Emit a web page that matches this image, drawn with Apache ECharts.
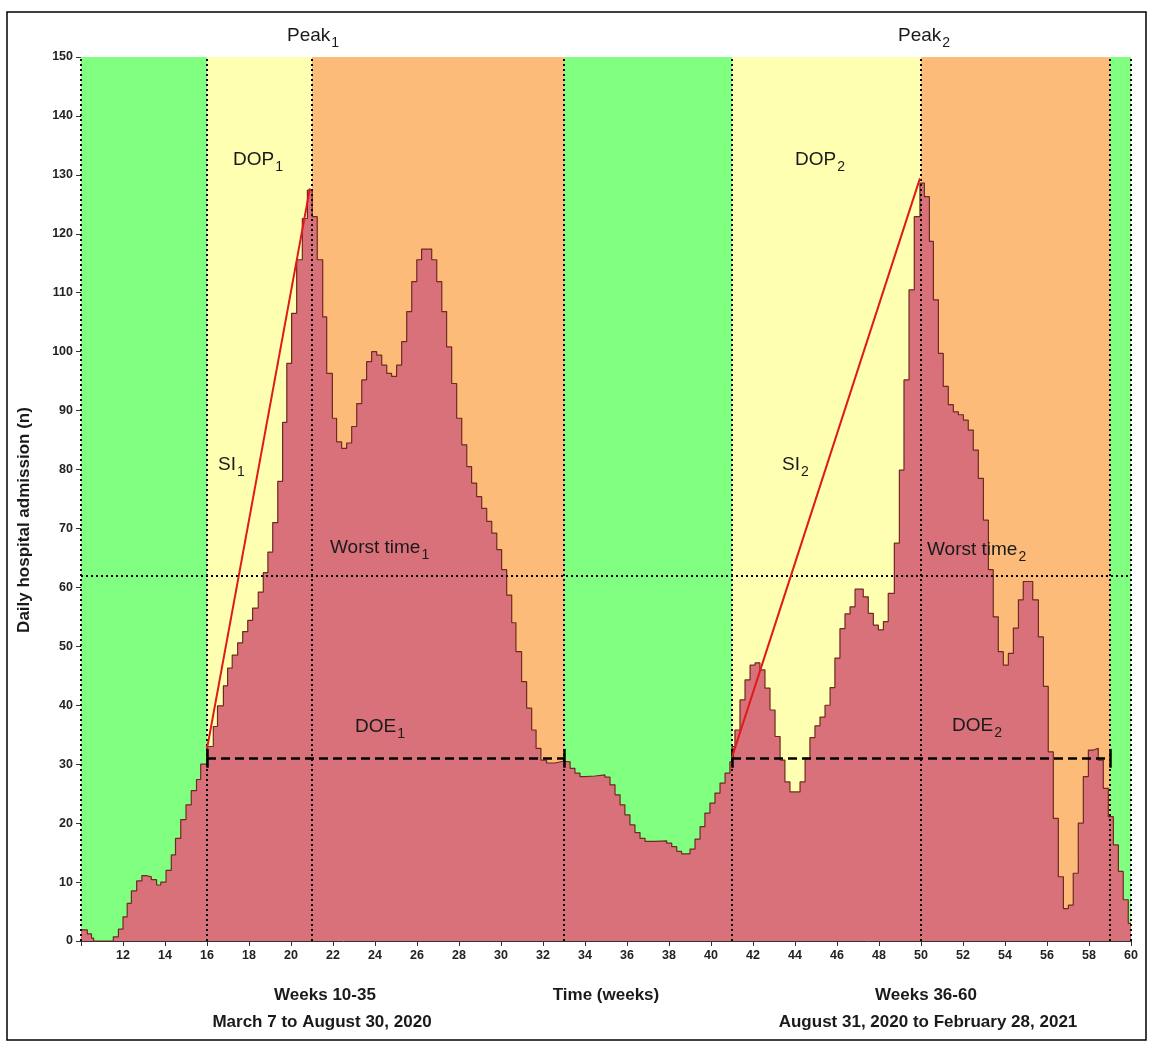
<!DOCTYPE html>
<html>
<head>
<meta charset="utf-8">
<script src="https://cdn.jsdelivr.net/npm/echarts@6/dist/echarts.min.js"></script>
<style>
  html, body { margin: 0; padding: 0; background: #fff; }
  #chart { width: 1149px; height: 1042px; }
</style>
</head>
<body>
<div id="chart"></div>
<script>
// ---- data ----
// start week of each step of the daily-admission curve
const stepWeeks = [
  10.0,10.3,10.5,10.6,11.54,11.78,12.0,12.2,12.4,12.65,
  12.9,13.1,13.35,13.6,13.8,14.05,14.3,14.5,14.75,15.0,
  15.25,15.5,15.7,16.0,16.3,16.5,16.78,16.98,17.2,17.46,
  17.7,17.94,18.17,18.44,18.68,18.9,19.13,19.37,19.6,19.8,
  20.03,20.27,20.54,20.78,21.01,21.25,21.51,21.7,21.97,22.17,
  22.41,22.65,22.89,23.13,23.37,23.6,23.84,24.08,24.32,24.56,
  24.79,25.03,25.27,25.51,25.75,25.99,26.22,26.7,26.94,27.18,
  27.41,27.65,27.89,28.13,28.37,28.6,28.84,29.08,29.32,29.56,
  29.8,30.03,30.27,30.51,30.71,30.98,31.22,31.46,31.67,31.9,
  32.17,32.57,32.97,33.29,33.52,33.76,34.0,34.48,34.95,35.19,
  35.43,35.67,35.9,36.14,36.38,36.62,36.86,37.33,37.89,38.13,
  38.37,38.6,39.0,39.24,39.48,39.71,39.95,40.19,40.43,40.67,
  40.9,41.0,41.14,41.38,41.62,41.86,42.1,42.33,42.57,42.81,
  43.05,43.29,43.52,43.76,44.24,44.48,44.71,44.95,45.19,45.43,
  45.67,45.9,46.14,46.38,46.62,46.86,47.25,47.49,47.73,47.97,
  48.21,48.44,48.73,48.97,49.19,49.43,49.68,49.95,50.16,50.4,
  50.59,50.83,51.06,51.3,51.54,51.78,52.02,52.25,52.49,52.73,
  52.97,53.21,53.44,53.68,53.92,54.16,54.4,54.64,54.87,55.32,
  55.59,55.83,56.06,56.3,56.54,56.78,57.02,57.25,57.49,57.73,
  57.97,58.21,58.44,58.68,58.92,59.16,59.4,59.63,59.87
];
// daily hospital admissions (n) for each step
const admissions = [
  1.9,1.2,0.5,0,0.7,2,4.1,6.4,8.5,10.2,
  11.1,10.9,10.4,9.5,10,12,14.6,17.4,20.6,23.1,
  25.5,27.4,30,33,36.4,39.9,43.3,46.3,48.5,50.6,
  52.5,54.4,56.5,59.2,62.5,66,71,78,88,98,
  106.5,115.6,122.6,127.4,122.9,115.6,105.9,96.3,88.7,84.7,
  83.6,84.5,87.3,91.2,95.2,98.3,100,99.4,97.7,96.3,
  95.8,97.7,101.7,106.8,111.9,115.6,117.4,115.6,111.9,106.8,
  100.8,94.6,88.7,84.2,80.5,77.7,75.4,73.4,71.2,69.2,
  66.4,63,58.7,54,49.1,44,39.5,35.8,32.7,30.7,
  30.2,30.5,30.4,29.3,28.5,27.9,28,28.2,27.8,26.5,
  24.8,23.1,21.4,19.7,18.4,17.4,16.9,17,16.6,16,
  15.2,14.8,15.6,17.3,19.4,21.7,23.4,25.1,26.8,28.5,
  30.4,33,35.8,40.9,44.3,46.8,47.2,46,42.9,39.2,
  34.7,30.7,27,25.3,27,31,34.5,36.5,38,40,
  43,48,53,55.5,56.7,59.7,58.4,55.6,53.6,52.8,
  54.2,59,67.5,79.9,95.2,110.5,122.9,128.6,126.3,118.7,
  108.8,99.7,94.1,91,89.8,89.3,88.4,86.7,83.3,78.5,
  71.4,63,55,49.1,46.8,48.8,53.1,57.9,61,57.9,
  51.6,43.2,32.1,20.8,10.9,5.5,6.1,11.5,20,27.9,
  32.4,32.7,30.7,25.9,21.1,16.3,11.8,7,3
];
const weekMin = 10, weekMax = 60;
// phase bands: start, end, phase
const bandStart = [10, 16, 21, 33, 41, 50, 59];
const bandEnd   = [16, 21, 33, 41, 50, 59, 60];
const bandPhase = ['calm', 'rise', 'fall', 'calm', 'rise', 'fall', 'calm'];
// dotted phase boundaries
const phaseLines = [10, 16, 21, 33, 41, 50, 59, 60];
const worstTimeLevel = 62;
const doeLevel = 31;
const doeSpans = [[16, 33], [41, 59]];
// SI lines: [startWeek, startValue, peakWeek, peakValue]
const siLines = [[16, 32.6, 20.9, 127.7], [41, 31.2, 49.95, 129.4]];

const phaseColor = { calm: '#80ff80', rise: '#ffffb2', fall: '#fdbb7a' };
const FONT = 'Liberation Sans, Arial, sans-serif';

const curve = stepWeeks.map((w, i) => [w, admissions[i]]);
curve.push([weekMax, admissions[admissions.length - 1]]);

const bandData = bandStart.map((s, i) => [
  { xAxis: s, itemStyle: { color: phaseColor[bandPhase[i]], opacity: 1 } },
  { xAxis: bandEnd[i] }
]);

const dotted = { color: '#000', type: [2, 3], width: 2 };
const lineData = [];
phaseLines.forEach(w => lineData.push({ xAxis: w, lineStyle: dotted }));
lineData.push({ yAxis: worstTimeLevel, lineStyle: dotted });
doeSpans.forEach(([a, b]) => {
  lineData.push([{ coord: [a, doeLevel], lineStyle: { color: '#000', type: [9, 5], width: 2.5 } }, { coord: [b, doeLevel] }]);
  [a, b].forEach(w => lineData.push([{ coord: [w, doeLevel - 1.6], lineStyle: { color: '#000', type: 'solid', width: 2.5 } }, { coord: [w, doeLevel + 1.6] }]));
});
siLines.forEach(([x0, y0, x1, y1]) => {
  lineData.push([{ coord: [x0, y0], lineStyle: { color: '#e01a1a', type: 'solid', width: 2 } }, { coord: [x1, y1] }]);
});

function note(main, sub, x, baseline, size) {
  size = size || 19;
  return {
    type: 'text', z: 100,
    style: {
      x: x, y: baseline - Math.round(size * 0.905),
      text: '{a|' + main + '}{s|' + sub + '}',
      verticalAlign: 'top', align: 'left',
      rich: {
        a: { fontSize: size, fontFamily: FONT, fill: '#1a1a1a', lineHeight: Math.round(size * 1.15), verticalAlign: 'top' },
        s: { fontSize: Math.round(size * 0.74), fontFamily: FONT, fill: '#1a1a1a', lineHeight: Math.round(size * 0.85), padding: [Math.round(size * 0.55), 0, 0, 1], verticalAlign: 'top' }
      }
    }
  };
}
function plain(text, cx, cy, size, bold) {
  return {
    type: 'text', z: 100,
    style: { x: cx, y: cy, text: text, align: 'center', verticalAlign: 'middle',
      font: (bold ? 'bold ' : '') + size + 'px ' + FONT, fill: '#1a1a1a' }
  };
}

const chart = echarts.init(document.getElementById('chart'), null, { renderer: 'canvas' });
chart.setOption({
  animation: false,
  backgroundColor: '#fff',
  grid: { left: 81, right: 18, top: 57, bottom: 101 },
  xAxis: {
    type: 'value', min: weekMin, max: weekMax, interval: 2,
    axisLine: { show: true, onZero: false, lineStyle: { color: '#333', width: 1 } },
    axisTick: { show: true, length: 5, lineStyle: { color: '#333' } },
    axisLabel: { formatter: v => (v === weekMin ? '' : String(v)), fontFamily: FONT, fontWeight: 'bold', fontSize: 12.5, color: '#222', margin: 8 },
    splitLine: { show: false }
  },
  yAxis: {
    type: 'value', min: 0, max: 150, interval: 10,
    axisLine: { show: false },
    axisTick: { show: true, length: 5, lineStyle: { color: '#333' } },
    axisLabel: { fontFamily: FONT, fontWeight: 'bold', fontSize: 12.5, color: '#222', margin: 8 },
    splitLine: { show: false }
  },
  series: [
    {
      type: 'line', data: [], z: 1, silent: true,
      markArea: { silent: true, data: bandData }
    },
    {
      type: 'line', step: 'end', data: curve, z: 2, symbol: 'none', silent: true,
      lineStyle: { color: '#6e2a22', width: 1.2 },
      areaStyle: { color: '#d9717a', opacity: 1 }
    },
    {
      type: 'line', data: [], z: 3, silent: true,
      markLine: { silent: true, symbol: ['none', 'none'], label: { show: false }, data: lineData }
    }
  ],
  graphic: [
    { type: 'rect', z: 100, shape: { x: 7, y: 12, width: 1139, height: 1028 }, style: { fill: 'none', stroke: '#000', lineWidth: 1.5 } },
    note('Peak', '1', 287, 43),
    note('Peak', '2', 898, 43),
    note('DOP', '1', 233, 167),
    note('DOP', '2', 795, 167),
    note('SI', '1', 218, 472),
    note('SI', '2', 782, 472),
    note('Worst time', '1', 330, 555),
    note('Worst time', '2', 927, 557),
    note('DOE', '1', 355, 734),
    note('DOE', '2', 952, 733),
    {
      type: 'text', z: 100, rotation: Math.PI / 2, x: 24, y: 520,
      style: { x: 0, y: 0, text: 'Daily hospital admission (n)', align: 'center', verticalAlign: 'middle',
        font: 'bold 17px ' + FONT, fill: '#1a1a1a' }
    },
    plain('Weeks 10-35', 325, 995, 17, true),
    plain('March 7 to August 30, 2020', 322, 1022, 17, true),
    plain('Time (weeks)', 606, 995, 17, true),
    plain('Weeks 36-60', 926, 995, 17, true),
    plain('August 31, 2020 to February 28, 2021', 928, 1022, 17, true)
  ]
});
</script>
</body>
</html>
